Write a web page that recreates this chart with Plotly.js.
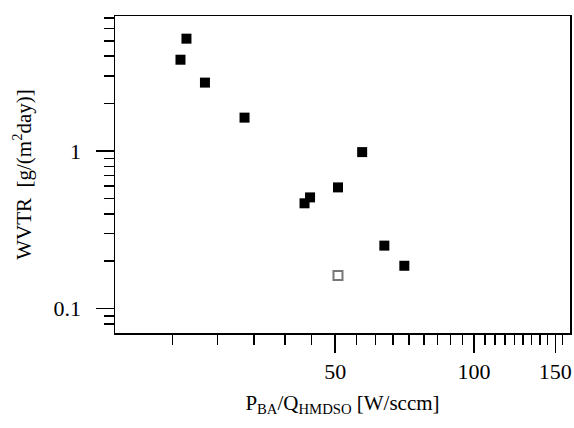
<!DOCTYPE html>
<html>
<head>
<meta charset="utf-8">
<script src="https://cdn.plot.ly/plotly-3.0.1.min.js"></script>
<style>html,body{margin:0;padding:0;background:#fff;}</style>
</head>
<body>
<div id="chart" style="width:574px;height:428px;"></div>
<script>
// Filled squares
const xFilled = [23.8, 23.1, 26.1, 31.8, 57.2, 50.7, 44.1, 42.9, 63.9, 70.6];
const yFilled = [5.17, 3.80, 2.72, 1.63, 0.985, 0.588, 0.508, 0.466, 0.251, 0.187];
// Open square
const xOpen = [50.7];
const yOpen = [0.162];

// Tick labels
const xTickVals = [50, 100, 150];
const xTickText = ['50', '100', '150'];
const xMinorVals = [22.2, 27.8, 33.3, 38.9, 44.4, 55.6, 61.1, 66.7, 72.2, 77.8, 83.3, 88.9, 94.4,
                    105.6, 111.1, 116.7, 122.2, 127.8, 133.3, 138.9, 144.4, 155.6];
const yTickVals = [0.1, 1];
const yTickText = ['0.1', '1'];
const yMinorVals = [0.08, 0.09, 0.2, 0.3, 0.4, 0.5, 0.6, 0.7, 0.8, 0.9, 2, 3, 4, 5, 6, 7];

function f(size) { return {family: 'Liberation Serif, Times New Roman, serif', size: size, color: '#000'}; }

const traces = [
  {x: xFilled, y: yFilled, type: 'scatter', mode: 'markers',
   marker: {symbol: 'square', size: 10, color: '#000', line: {width: 0}}, showlegend: false},
  {x: xOpen, y: yOpen, type: 'scatter', mode: 'markers',
   marker: {symbol: 'square-open', size: 9, color: '#777', line: {width: 2, color: '#777'}}, showlegend: false}
];

const layout = {
  width: 574, height: 428,
  margin: {l: 115, r: 4, t: 16, b: 95, pad: 0},
  paper_bgcolor: '#fff', plot_bgcolor: '#fff',
  font: f(22),
  showlegend: false,
  xaxis: {
    type: 'log', range: [Math.log10(16.66), Math.log10(161.4)],
    tickmode: 'array', tickvals: xTickVals, ticktext: xTickText,
    ticks: 'outside', ticklen: 18, tickwidth: 1.5, tickcolor: '#000',
    minor: {tickmode: 'array', tickvals: xMinorVals, ticks: 'outside', ticklen: 10, tickwidth: 1.5, tickcolor: '#000', showgrid: false},
    showline: true, linecolor: '#000', linewidth: 1.5, mirror: true,
    showgrid: false, zeroline: false,
    tickfont: f(22),
    title: {text: 'P<sub>BA</sub>/Q<sub>HMDSO</sub> [W/sccm]', font: f(21), standoff: 12}
  },
  yaxis: {
    type: 'log', range: [Math.log10(0.07), Math.log10(7.2)],
    tickmode: 'array', tickvals: yTickVals, ticktext: yTickText,
    ticks: 'outside', ticklen: 18, tickwidth: 1.5, tickcolor: '#000',
    ticklabelstandoff: 10,
    minor: {tickmode: 'array', tickvals: yMinorVals, ticks: 'outside', ticklen: 10, tickwidth: 1.5, tickcolor: '#000', showgrid: false},
    showline: true, linecolor: '#000', linewidth: 1.5, mirror: true,
    showgrid: false, zeroline: false,
    tickfont: f(22),
    title: {text: 'WVTR  [g/(m<sup>2</sup>day)]', font: f(21), standoff: 16}
  }
};

Plotly.newPlot('chart', traces, layout, {displayModeBar: false, staticPlot: true});
</script>
</body>
</html>
